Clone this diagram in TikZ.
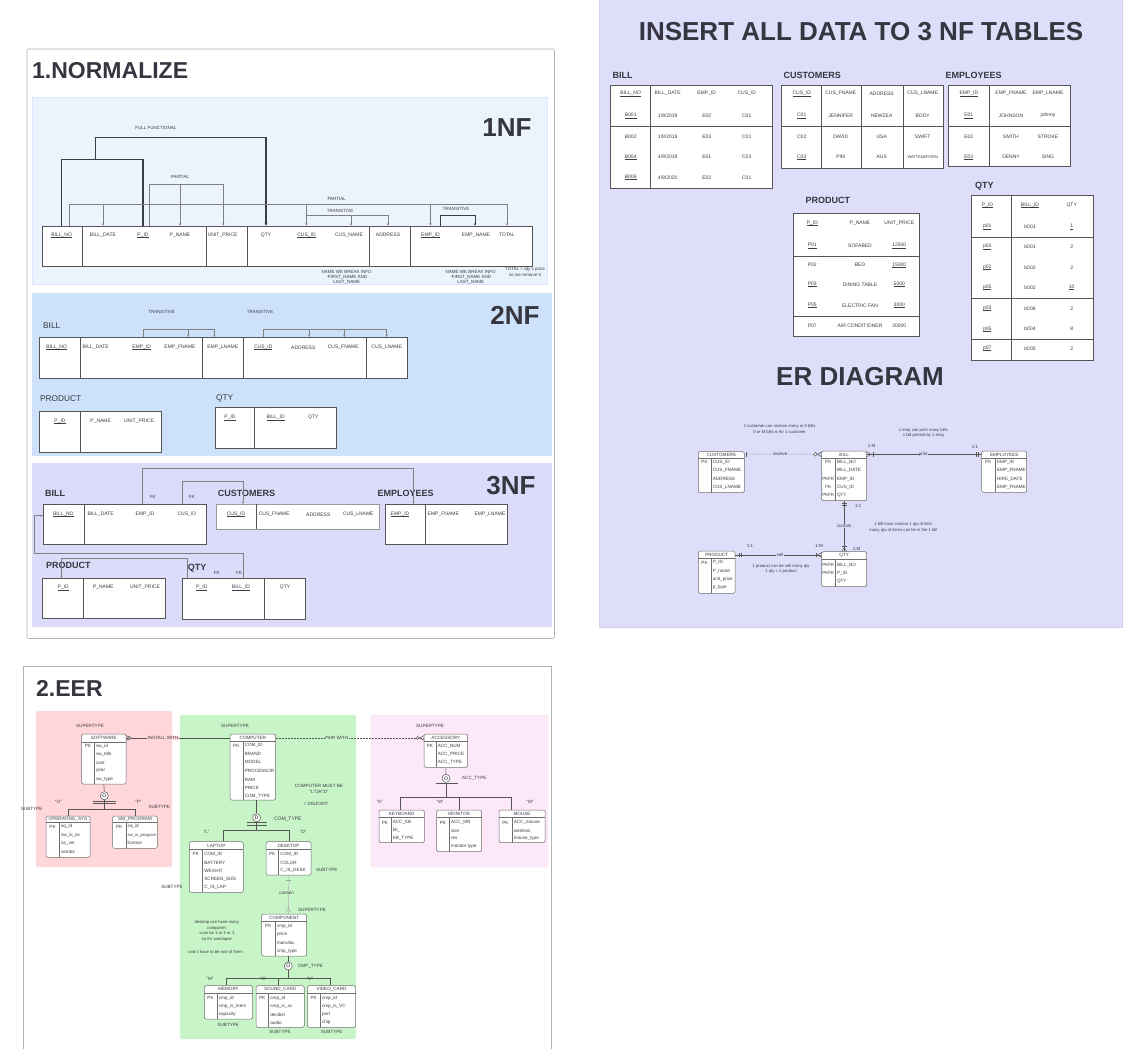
\documentclass[tikz,border=0pt]{standalone}
\usepackage{fontspec}
\setmainfont{Liberation Sans}
\usetikzlibrary{arrows.meta,fit,calc}
\definecolor{tline}{HTML}{555555}
\definecolor{txt}{HTML}{3C3C46}
\definecolor{ttl}{HTML}{363640}
\definecolor{nfa}{HTML}{EBF3FD}
\definecolor{nfb}{HTML}{CDE2FA}
\definecolor{nfc}{HTML}{DCDCFA}
\definecolor{rp}{HTML}{DEDEFA}
\definecolor{pk}{HTML}{FFD6D9}
\definecolor{gr}{HTML}{C8F5C8}
\definecolor{lp}{HTML}{FCE8F8}
\definecolor{frm}{HTML}{B4B4B4}
\definecolor{depc}{HTML}{808080}
\newcommand\fsz{\fontsize{5}{6}\selectfont}
\newcommand\flab{\fontsize{4.5}{5.4}\selectfont}
\newcommand\fen{\fontsize{4.6}{5.6}\selectfont}
\newcommand\fnt{\fontsize{4.2}{5.6}\selectfont}
\newcommand\fsec{\fontsize{9}{10}\selectfont}
\newcommand\fmid{\fontsize{8.3}{10}\selectfont}
\newcommand\fbig{\fontsize{26}{30}\selectfont}
\newcommand\fttl{\fontsize{23}{27}\selectfont}
\newcommand\myul[1]{{\setbox0\hbox{#1}\rlap{\rule[-0.9pt]{\wd0}{0.3pt}}\box0}}
\newcounter{tn}
\newcommand\putt[4][]{\stepcounter{tn}\node[hd,#1] (t\arabic{tn}) at (#2,#3) {#4};}
\newcommand\rfour[9]{\putt{#2}{#1}{#3}\putt{#4}{#1}{#5}\putt{#6}{#1}{#7}\putt{#8}{#1}{#9}}
\newcommand\rthree[7]{\putt{#2}{#1}{#3}\putt{#4}{#1}{#5}\putt{#6}{#1}{#7}}
\newcommand\ent[8]{%
  \node[en, fit={(#2,#3)(#4,#5)}] (#1) {};
  \draw[edv] (#2,#6) -- (#4,#6);
  \draw[edv] (#7,#6) -- (#7,#5);
  \node[et] (#1h) at ({(#2+#4)/2},{(#3+#6)/2}) {#8};}
\newcommand\R[5]{\putt[et]{#1}{#3}{#4}\putt[et,anchor=west]{#2}{#3}{#5}}
\begin{document}
\begin{tikzpicture}[x=1pt,y=-1pt,
  hd/.style={font=\fsz, text=txt, inner sep=0.3pt},
  tb/.style={draw=tline, fill=white, line width=0.7pt, inner sep=0pt},
  dv/.style={draw=tline, line width=0.7pt},
  dep/.style={draw=depc, line width=0.5pt},
  arr/.style={-{Stealth[length=2.4pt,width=2.2pt]}},
  ffl/.style={draw=txt, line width=1.2pt},
  lab/.style={font=\flab, text=txt, inner sep=0.4pt},
  nt/.style={font=\fnt, text=txt, inner sep=0.3pt, align=center},
  secl/.style={font=\fsec\bfseries, text=ttl, anchor=west, inner sep=0pt},
  midl/.style={font=\fmid, text=ttl, anchor=west, inner sep=0pt},
  big/.style={font=\fbig\bfseries, text=ttl, inner sep=0pt},
  en/.style={draw=tline!85, fill=white, line width=0.5pt, rounded corners=1.5pt, inner sep=0pt},
  edv/.style={draw=tline!85, line width=0.4pt},
  et/.style={font=\fen, text=txt, inner sep=0.3pt},
  erl/.style={draw=tline, line width=0.5pt},
  circ/.style={draw=tline, circle, fill=white, minimum size=8pt, inner sep=0pt, font=\fsz, line width=0.5pt}]
\useasboundingbox (0,0) rectangle (1130,1049);
% ---------------- frames ----------------
\draw[frm, fill=white, rounded corners=2pt, line width=0.6pt] (27,49) rectangle (554.5,638.5);
\node[font=\fttl\bfseries, text=ttl, anchor=west, inner sep=0pt] (ttlnorm) at (32,71) {1.NORMALIZE};
\draw[fill=nfa, draw=nfa!85!blue!60!white, line width=0.4pt] (32,97) rectangle (547,284);
\fill[nfb] (32,292.5) rectangle (552,456);
\fill[nfc] (32,463) rectangle (552,627);
\draw[fill=rp, draw=rp!85!gray, line width=0.5pt] (599,-2) rectangle (1122,627);
\draw[frm, fill=white, line width=0.6pt] (23,666) rectangle (551,1060);
\node[font=\fttl\bfseries, text=ttl, anchor=west, inner sep=0pt] (ttleer) at (36,688) {2.EER};
\fill[pk, rounded corners=2pt] (36,711) rectangle (172,867);
\fill[gr, rounded corners=2pt] (180,715) rectangle (356,1039);
\draw[fill=lp, draw=pk!70, rounded corners=2pt, line width=0.4pt] (371,715) rectangle (548,867);
% ---------------- 1NF ----------------
\node[big] (l1nf) at (507,128) {1NF};
\node[tb, fit={(42,226)(532,266)}] (nf1) {};
\foreach \xx in {82,206,247,369,410} \draw[dv] (\xx,226) -- (\xx,266);
\node[hd] (a1) at (61.7,235) {\myul{BILL\_NO}};
\node[hd] (a2) at (103,235) {BILL\_DATE};
\node[hd] (a3) at (143,235) {\myul{P\_ID}};
\node[hd] (a4) at (180,235) {P\_NAME};
\node[hd] (a5) at (222.7,235) {UNIT\_PRICE};
\node[hd] (a6) at (266,235) {QTY};
\node[hd] (a7) at (306.5,235) {\myul{CUS\_ID}};
\node[hd] (a8) at (349,235) {CUS\_NAME};
\node[hd] (a9) at (388,235) {ADDRESS};
\node[hd] (a10) at (430.5,235) {\myul{EMP\_ID}};
\node[hd] (a11) at (476,235) {EMP\_NAME};
\node[hd] (a12) at (507,235) {TOTAL};
\draw[ffl] (a1 |- nf1.north) -- ++(0,-66) -| (a3 |- nf1.north);
\draw[ffl,-{Stealth[length=3.2pt,width=3pt]}] ($(a1 |- nf1.north)+(34,-66)$) -- ++(0,-22.3) -| (a6 |- nf1.north);
\draw[dep,arr] ($(a3 |- nf1.north)+(6.3,0)$) -- ++(0,-41.7) -| ($(a5 |- nf1.north)+(0.6,0)$);
\draw[dep,arr] ($(a4 |- nf1.north)+(0,-41.7)$) -- (a4 |- nf1.north);
\draw[dep,arr] ($(a1 |- nf1.north)+(7.6,0)$) -- ++(0,-21.7) -| (a12 |- nf1.north);
\foreach \n in {a2,a7,a10} \draw[dep,arr] ($(\n |- nf1.north)+(0,-21.7)$) -- (\n |- nf1.north);
\draw[dep,arr] ($(a7 |- nf1.north)+(0,-10.3)$) -| (a9 |- nf1.north);
\draw[dep,arr] ($(a8 |- nf1.north)+(2,-10.3)$) -- ($(a8 |- nf1.north)+(2,0)$);
\draw[draw=txt, line width=0.8pt, arr] ($(a10 |- nf1.north)+(10,0)$) -- ++(0,-10.3) -| ($(a11 |- nf1.north)+(-1,0)$);
\putt[lab]{156}{128}{FULL FUNCTIONAL}
\putt[lab]{180}{177}{PARTIAL}
\putt[lab]{336.7}{199.3}{PARTIAL}
\putt[lab]{340}{211}{TRANSITIVE}
\putt[lab]{456}{209}{TRANSITIVE}
\putt[lab,align=center]{346.7}{277.3}{NAME WE BREAK INFO\\-FIRST\_NAME AND\\LAST\_NAME}
\putt[lab,align=center]{470.7}{277.3}{NAME WE BREAK INFO\\-FIRST\_NAME AND\\LAST\_NAME}
\putt[lab,align=center]{525}{272}{TOTAL = qty x price\\so we remove it}
% ---------------- 2NF ----------------
\node[big] (l2nf) at (515,315) {2NF};
\node[midl] (s2bill) at (43,326) {BILL};
\node[tb, fit={(39,337.3)(407.3,378.3)}] (b2) {};
\foreach \xx in {80,202.7,243.3,366.7} \draw[dv] (\xx,337.3) -- (\xx,378.3);
\node[hd] (c1) at (56.7,347.3) {\myul{BILL\_NO}};
\node[hd] (c2) at (95.7,347.3) {BILL\_DATE};
\node[hd] (c3) at (141.7,347.3) {\myul{EMP\_ID}};
\node[hd] (c4) at (180,347.3) {EMP\_FNAME};
\node[hd] (c5) at (222.7,347.3) {EMP\_LNAME};
\node[hd] (c6) at (263.3,347.3) {\myul{CUS\_ID}};
\node[hd] (c7) at (303.3,347.3) {ADDRESS};
\node[hd] (c8) at (343.3,347.3) {CUS\_FNAME};
\node[hd] (c9) at (386.7,347.3) {CUS\_LNAME};
\draw[dep,arr] ($(c3 |- b2.north)+(1.6,0)$) -- ++(0,-8) -| ($(c5 |- b2.north)+(-8.4,0)$);
\draw[dep,arr] ($(c4 |- b2.north)+(8.3,-8)$) -- ($(c4 |- b2.north)+(8.3,0)$);
\draw[dep,arr] (c6 |- b2.north) -- ++(0,-8) -| (c9 |- b2.north);
\draw[dep,arr] ($(c7 |- b2.north)+(6,-8)$) -- ($(c7 |- b2.north)+(6,0)$);
\draw[dep,arr] ($(c8 |- b2.north)+(1,-8)$) -- ($(c8 |- b2.north)+(1,0)$);
\putt[lab]{161.7}{312.3}{TRANSITIVE}
\putt[lab]{260}{312.3}{TRANSITIVE}
\node[midl] (s2prod) at (40,398.3) {PRODUCT};
\node[tb, fit={(39,411.7)(161,452.7)}] (p2) {};
\draw[dv] (80,411.7) -- (80,452.7);
\putt{60}{421}{\myul{P\_ID}}
\putt{100.7}{421}{P\_NAME}
\putt{139}{421}{UNIT\_PRICE}
\node[midl] (s2qty) at (216,398.3) {QTY};
\node[tb, fit={(215,407.3)(336,448.3)}] (q2) {};
\draw[dv] (254.3,407.3) -- (254.3,448.3);
\putt{230}{417.7}{\myul{P\_ID}}
\putt{275.7}{417.7}{\myul{BILL\_ID}}
\putt{313.3}{417.7}{QTY}
% ---------------- 3NF ----------------
\node[big] (l3nf) at (511,486) {3NF};
\node[secl] (s3bill) at (45,493.3) {BILL};
\node[tb, fit={(43.3,504.3)(206.7,544.3)}] (b3) {};
\draw[dv] (84,504.3) -- (84,544.3);
\node[hd] (d1) at (63.3,514.3) {\myul{BILL\_NO}};
\node[hd] (d2) at (100.7,514.3) {BILL\_DATE};
\node[hd] (d3) at (145,514.3) {EMP\_ID};
\node[hd] (d4) at (186.7,514.3) {CUS\_ID};
\node[secl] (s3cus) at (217.7,493.3) {CUSTOMERS};
\node[tb, draw=tline!60, fit={(216,504.3)(379,529)}] (c3b) {};
\draw[dv] (256.7,504.3) -- (256.7,529);
\putt{236}{514.3}{\myul{CUS\_ID}}
\putt{274.3}{514.3}{CUS\_FNAME}
\putt{318.3}{514.3}{ADDRESS}
\putt{358.3}{514.3}{CUS\_LNAME}
\node[secl] (s3emp) at (377.3,493.3) {EMPLOYEES};
\node[tb, fit={(385,504.3)(507.3,544.3)}] (e3) {};
\draw[dv] (425.7,504.3) -- (425.7,544.3);
\putt{400}{514.3}{\myul{EMP\_ID}}
\putt{443.3}{514.3}{EMP\_FNAME}
\putt{490}{514.3}{EMP\_LNAME}
\node[secl] (s3prod) at (46,565) {PRODUCT};
\node[tb, fit={(42.7,578.3)(165,618.3)}] (p3) {};
\draw[dv] (83.3,578.3) -- (83.3,618.3);
\putt{63.3}{587.7}{\myul{P\_ID}}
\putt{103.3}{587.7}{P\_NAME}
\putt{145}{587.7}{UNIT\_PRICE}
\node[secl] (s3qty) at (187.7,568.3) {QTY};
\node[tb, fit={(182.7,578.3)(305.7,619.3)}] (q3) {};
\draw[dv] (264.3,578.3) -- (264.3,619.3);
\putt{201.7}{587.7}{\myul{P\_ID}}
\putt{241}{587.7}{\myul{BILL\_ID}}
\putt{285}{587.7}{QTY}
\draw[dep,arr] ($(d3 |- b3.north)+(-2.3,0)$) -- ++(0,-36) -| ($(e3.north west)+(29,0)$);
\draw[dep,arr] ($(d4 |- b3.north)+(-4.4,0)$) -- ++(0,-22.6) -| ($(c3b.north west)+(27.3,0)$);
\draw[dep,arr] ($(q3.north west)+(60.6,0)$) -- ++(0,-25) -| ($(b3.west)+(-9,-8.6)$) -- ($(b3.west)+(0,-8.6)$);
\draw[dep,arr] ($(q3.north west)+(5,0)$) -- ++(0,-20) -| ($(p3.north west)+(19,0)$);
\putt[lab]{152.7}{496.7}{FK}
\putt[lab]{191.7}{496.7}{FK}
\putt[lab]{216.7}{572.7}{FK}
\putt[lab]{239}{572.7}{FK}
% ---------------- INSERT DATA ----------------
\node[big] (ttlins) at (861,31.7) {INSERT ALL DATA TO 3 NF TABLES};
\node[secl] (rbl) at (612.5,75) {BILL};
\node[tb, fit={(610.7,85)(772.7,188.3)}] (rb) {};
\draw[dv] (650.7,85) -- (650.7,188.3);
\draw[dv] (610.7,126.7) -- (772.7,126.7);
\rfour{93.7}{630.7}{\myul{BILL\_NO}}{667.7}{BILL\_DATE}{706.7}{EMP\_ID}{746.7}{CUS\_ID}
\rfour{115.7}{630.7}{\myul{B001}}{667.7}{1/9/2019}{706.7}{E02}{746.7}{C01}
\rfour{136.7}{630.7}{B002}{667.7}{1/9/2018}{706.7}{E03}{746.7}{C01}
\rfour{157}{630.7}{\myul{B004}}{667.7}{4/9/2019}{706.7}{E01}{746.7}{C03}
\rfour{177.3}{630.7}{\myul{B006}}{667.7}{4/9/2020}{706.7}{E02}{746.7}{C01}
\node[secl] (rcl) at (783.3,75) {CUSTOMERS};
\node[tb, fit={(781,85)(943.3,168.3)}] (rc) {};
\foreach \xx in {821.7,861.7,903.3} \draw[dv] (\xx,85) -- (\xx,168.3);
\draw[dv] (781,126.7) -- (943.3,126.7);
\rfour{93.7}{801.7}{\myul{CUS\_ID}}{840.7}{CUS\_FNAME}{881.7}{ADDRESS}{922.7}{CUS\_LNAME}
\rfour{115.7}{801.7}{\myul{C01}}{840.7}{JENNIFER}{881.7}{NEWZEA}{922.7}{BODY}
\rfour{136.7}{801.7}{C02}{840.7}{DAVID}{881.7}{USA}{922.7}{SWIFT}
\rfour{157}{801.7}{\myul{C03}}{840.7}{PIM}{881.7}{AUS}{922.7}{{\fontsize{4}{5}\selectfont WATTANAPORN}}
\node[secl] (rel) at (945.5,75) {EMPLOYEES};
\node[tb, fit={(948.3,85)(1070,166.7)}] (re) {};
\draw[dv] (989.3,85) -- (989.3,166.7);
\draw[dv] (948.3,126.7) -- (1070,126.7);
\rthree{93.7}{968.8}{\myul{EMP\_ID}}{1011}{EMP\_FNAME}{1048}{EMP\_LNAME}
\rthree{115.7}{968.8}{\myul{E01}}{1011}{JOHNSON}{1048}{johnny}
\rthree{136.7}{968.8}{E02}{1011}{SMITH}{1048}{STROKE}
\rthree{157}{968.8}{\myul{E03}}{1011}{DENNY}{1048}{SING}
\node[secl] (rpl) at (805.5,200) {PRODUCT};
\node[tb, fit={(793.3,213.3)(919.3,336.7)}] (rpd) {};
\draw[dv] (793.3,256) -- (919.3,256);
\draw[dv] (793.3,316.7) -- (919.3,316.7);
\rthree{223.3}{812.3}{\myul{P\_ID}}{860}{P\_NAME}{899.3}{UNIT\_PRICE}
\rthree{245.7}{812.3}{\myul{P01}}{860}{SOFABED}{899.3}{\myul{12500}}
\rthree{265}{812.3}{P02}{860}{BED}{899.3}{\myul{15000}}
\rthree{284.3}{812.3}{\myul{P03}}{860}{DINING TABLE}{899.3}{\myul{5000}}
\rthree{305.3}{812.3}{\myul{P05}}{860}{ELECTRIC FAN}{899.3}{\myul{3000}}
\rthree{325.7}{812.3}{P07}{860}{AIR CONDITIONER}{899.3}{20000}
\node[secl] (rql) at (975,186.7) {QTY};
\node[tb, fit={(971.7,195)(1093.3,360)}] (rq) {};
\draw[dv] (1011,195) -- (1011,360);
\foreach \yy in {237.3,298.3,339} \draw[dv] (971.7,\yy) -- (1093.3,\yy);
\rthree{205}{987.3}{\myul{P\_ID}}{1030}{\myul{BILL\_ID}}{1071.7}{QTY}
\rthree{226.7}{987.3}{\myul{p01}}{1030}{b001}{1071.7}{\myul{1}}
\rthree{246.7}{987.3}{\myul{p03}}{1030}{b001}{1071.7}{2}
\rthree{267.3}{987.3}{\myul{p02}}{1030}{b002}{1071.7}{2}
\rthree{287.3}{987.3}{\myul{p05}}{1030}{b002}{1071.7}{\myul{10}}
\rthree{308.3}{987.3}{\myul{p03}}{1030}{b006}{1071.7}{2}
\rthree{329}{987.3}{\myul{p05}}{1030}{b004}{1071.7}{8}
\rthree{348.3}{987.3}{\myul{p07}}{1030}{b005}{1071.7}{2}
% ---------------- ER DIAGRAM ----------------
\node[big] (ttler) at (860,377) {ER DIAGRAM};
\ent{ecus}{698.3}{451.7}{744.3}{492.7}{458}{710.7}{CUSTOMERS}
\R{704.5}{712.3}{462.3}{PK}{CUS\_ID}
\R{704.5}{712.3}{470.7}{}{CUS\_FNAME}
\R{704.5}{712.3}{479.3}{}{ADDRESS}
\R{704.5}{712.3}{487.7}{}{CUS\_LNAME}
\ent{ebill}{821.7}{451}{866.7}{500.7}{458}{835}{BILL}
\R{828.3}{836.6}{462.3}{PK}{BILL\_NO}
\R{828.3}{836.6}{470.7}{}{BILL\_DATE}
\R{828.3}{836.6}{479.3}{PKFK}{EMP\_ID}
\R{828.3}{836.6}{487.3}{FK}{CUS\_ID}
\R{828.3}{836.6}{495.3}{PKFK}{QTY}
\ent{eemp}{981.7}{451}{1026.7}{492.3}{458}{995}{EMPLOYEES}
\R{988.3}{996.6}{462.3}{PK}{EMP\_ID}
\R{988.3}{996.6}{470.7}{}{EMP\_FNAME}
\R{988.3}{996.6}{479.3}{}{HIRE\_DATE}
\R{988.3}{996.6}{487.7}{}{EMP\_FNAME}
\ent{eqty}{821.7}{551.7}{866.7}{586.7}{559.5}{835}{QTY}
\R{828.3}{836.6}{565}{PKFK}{BILL\_NO}
\R{828.3}{836.6}{573.3}{PKFK}{P\_ID}
\R{828.3}{836.6}{581.7}{}{QTY}
\ent{eprod}{698.3}{551}{735}{593.3}{558}{710.7}{PRODUCT}
\R{704.5}{712.3}{562.7}{PK}{P\_ID}
\R{704.5}{712.3}{571}{}{P\_name}
\R{704.5}{712.3}{579.3}{}{unit\_price}
\R{704.5}{712.3}{587.7}{}{p\_type}
% CUSTOMERS -- BILL
\draw[erl, densely dotted] ($(ecus.north east)+(0,2.6)$) -- ($(ebill.north west)+(0,3.3)$);
\draw[erl] (746.5,452) -- (746.5,456.6);
\draw[erl] (817.5,454.3) -- (821.7,451.8) (817.5,454.3) -- (821.7,456.8);
\draw[erl,fill=white] (815.4,454.3) circle (1.8);
\node[lab,fill=rp] (lrecv) at (780,454.3) {recieve};
% BILL -- EMPLOYEES
\draw[erl] ($(ebill.north east)+(0,3.3)$) -- ($(eemp.north west)+(0,3.3)$);
\draw[erl] (871,454.3) -- (866.7,451.8) (871,454.3) -- (866.7,456.8);
\draw[erl] (873,452) -- (873,456.6);
\draw[erl] (976.5,452) -- (976.5,456.6) (978.7,452) -- (978.7,456.6);
\node[lab,fill=rp] (lprint) at (923.3,454.3) {print};
\putt[lab]{871.7}{446}{1:M}
\putt[lab]{975}{447.3}{1:1}
% BILL -- QTY
\draw[erl] (ebill.south) -- (eqty.north);
\draw[erl] (841.8,503.3) -- (846.6,503.3) (841.8,505.6) -- (846.6,505.6);
\draw[erl] (844.2,547.5) -- (841.7,551.7) (844.2,547.5) -- (846.7,551.7);
\draw[erl] (841.8,545.8) -- (846.6,545.8);
\node[lab,fill=rp] (lcont) at (844.2,526) {contain};
\putt[lab]{858.3}{505.7}{1:1}
\putt[lab]{856.7}{549}{1:M}
% PRODUCT -- QTY
\draw[erl] ($(eprod.north east)+(0,4)$) -- ($(eqty.north west)+(0,3.3)$);
\draw[erl] (739,552.7) -- (739,557.3) (741.2,552.7) -- (741.2,557.3);
\draw[erl] (817.5,555) -- (821.7,552.5) (817.5,555) -- (821.7,557.5);
\draw[erl] (816,552.7) -- (816,557.3);
\node[lab,fill=rp] (lsell) at (780,555) {sell};
\putt[lab]{750}{545.7}{1:1}
\putt[lab]{819}{545.7}{1:M}
\putt[nt]{779.6}{429}{1 customer can recieve many or 0 bills\\0 or M bills is for 1 customer}
\putt[nt]{923.3}{433}{1 emp can print many bills\\1 bill printed by 1 emp}
\putt[nt]{903.3}{527.3}{1 bill must contain 1 qty of item\\many qty of items can be in the 1 bill}
\putt[nt]{781}{568.8}{1 product can be sell many qty\\1 qty = 1 product}
% ---------------- EER ----------------
\ent{sw}{81.7}{734}{126}{784}{741.7}{94}{SOFTWARE}
\R{88}{95.6}{746.3}{PK}{sw\_id}
\R{88}{95.6}{754.7}{}{sw\_title}
\R{88}{95.6}{762.7}{}{cost}
\R{88}{95.6}{771}{}{year}
\R{88}{95.6}{779}{}{sw\_type}
\ent{os}{46}{816}{90}{857.3}{822}{59}{OPERATING\_SYS}
\R{52.5}{60.6}{826.7}{PK}{sq\_id}
\R{52.5}{60.6}{835}{}{sw\_is\_os}
\R{52.5}{60.6}{843.3}{}{os\_ver}
\R{52.5}{60.6}{851.7}{}{vendor}
\ent{swp}{112.7}{816}{157.3}{848.3}{822}{125.7}{SW\_PROGRAM}
\R{119.2}{127.2}{826.7}{PK}{sq\_id}
\R{119.2}{127.2}{835}{}{{\fontsize{4.2}{5}\selectfont sw\_is\_program}}
\R{119.2}{127.2}{843.3}{}{licence}
\ent{cmp}{230}{734}{275.7}{800}{741.5}{242.7}{COMPUTER}
\R{236.3}{244.3}{745.5}{PK}{COM\_ID}
\R{236.3}{244.3}{753.8}{}{BRAND}
\R{236.3}{244.3}{762.3}{}{MODEL}
\R{236.3}{244.3}{771}{}{PROCESSOR}
\R{236.3}{244.3}{779.7}{}{RAM}
\R{236.3}{244.3}{788}{}{PRICE}
\R{236.3}{244.3}{796.2}{}{COM\_TYPE}
\ent{lap}{189.3}{841.7}{243.3}{892.3}{849.5}{202.3}{LAPTOP}
\R{195.8}{203.9}{854.3}{PK}{COM\_ID}
\R{195.8}{203.9}{862.5}{}{BATTERY}
\R{195.8}{203.9}{870.7}{}{WEIGHT}
\R{195.8}{203.9}{879}{}{SCREEN\_SIZE}
\R{195.8}{203.9}{887.3}{}{C\_IS\_LAP}
\ent{desk}{266}{841.7}{311}{875}{849.5}{278.3}{DESKTOP}
\R{272.2}{279.9}{854.3}{PK}{COM\_ID}
\R{272.2}{279.9}{862.5}{}{COLOR}
\R{272.2}{279.9}{870.5}{}{C\_IS\_DESK}
\ent{comp}{261.7}{914}{306.7}{956}{921.5}{275}{COMPONENT}
\R{268.3}{276.6}{926}{PK}{cmp\_id}
\R{268.3}{276.6}{934.3}{}{price}
\R{268.3}{276.6}{942.7}{}{manufac}
\R{268.3}{276.6}{951}{}{cmp\_type}
\ent{mem}{204.3}{985.7}{252.7}{1019}{993}{216.7}{MEMORY}
\R{210.5}{218.3}{998}{PK}{cmp\_id}
\R{210.5}{218.3}{1006.5}{}{cmp\_is\_mem}
\R{210.5}{218.3}{1014.7}{}{capacity}
\ent{snd}{256}{985.7}{304.3}{1027.3}{993}{268.3}{SOUND\_CARD}
\R{262.2}{269.9}{998}{PK}{cmp\_id}
\R{262.2}{269.9}{1006.5}{}{cmp\_is\_sc}
\R{262.2}{269.9}{1014.7}{}{decibel}
\R{262.2}{269.9}{1022.7}{}{audio}
\ent{vid}{307.3}{985.7}{355.7}{1027.3}{993}{320}{VIDEO\_CARD}
\R{313.7}{321.6}{998}{PK}{cmp\_id}
\R{313.7}{321.6}{1006.5}{}{cmp\_is\_VC}
\R{313.7}{321.6}{1014.7}{}{port}
\R{313.7}{321.6}{1022.7}{}{chip}
\ent{acc}{424}{734}{467.7}{767.3}{741}{435.7}{ACCESSORY}
\R{429.9}{437.3}{746}{PK}{ACC\_NUM}
\R{429.9}{437.3}{754.3}{}{ACC\_PRICE}
\R{429.9}{437.3}{762.3}{}{ACC\_TYPE}
\ent{kb}{379}{810}{424.3}{842.7}{817.5}{390.7}{KEYBOARD}
\R{384.9}{392.3}{822.7}{PK}{ACC\_KB}
\R{384.9}{392.3}{830.7}{}{kb\_}
\R{384.9}{392.3}{838.5}{}{KB\_TYPE}
\ent{mon}{436.7}{810}{481.7}{851.7}{817.5}{449}{MONITOR}
\R{442.9}{450.6}{822.7}{PK}{ACC\_MN}
\R{442.9}{450.6}{830.7}{}{size}
\R{442.9}{450.6}{838.5}{}{res}
\R{442.9}{450.6}{846.7}{}{monitor type}
\ent{ms}{499}{810}{545}{842.7}{817.5}{511.7}{MOUSE}
\R{505.4}{513.3}{822.7}{PK}{ACC\_mouse}
\R{505.4}{513.3}{830.7}{}{wireless}
\R{505.4}{513.3}{838.5}{}{mouse\_type}
% INSTALL WITH
\draw[erl] ($(sw.north east)+(0,4)$) -- ($(cmp.north west)+(0,4)$);
\draw[erl] (131.5,738) -- (126,735.6) (131.5,738) -- (126,740.4);
\draw[erl,fill=white] (129.3,738) circle (1.5);
\node[lab,fill=pk] (linst) at (163,738) {INSTALL WITH};
% PAIR WITH
\draw[erl, densely dotted] ($(cmp.north east)+(0,4)$) -- ($(acc.north west)+(0,4)$);
\draw[erl] (419.5,738) -- (424,735.6) (419.5,738) -- (424,740.4);
\draw[erl,fill=white] (417.8,738) circle (1.5);
\node[lab,fill=gr] (lpair) at (336.7,737.5) {PAIR WITH};
% software specialisation
\node[circ] (sc) at (104.3,795.7) {O};
\draw[erl] (sw.south) -- (sc.north);
\draw[erl] (92.7,801.5) -- (115.7,801.5) (92.7,803.7) -- (115.7,803.7);
\draw[erl] (sc.south) -- ++(0,9.3);
\draw[erl] (os.north) -- ++(0,-6.7) -| (swp.north);
% computer specialisation
\node[circ] (cc) at (256.7,817.7) {D};
\draw[erl] ($(cmp.south)+(3.85,0)$) -- (cc.north);
\draw[erl] (246.7,822.7) -- (267,822.7) (246.7,824.9) -- (267,824.9);
\draw[erl] (cc.south) -- ++(0,9);
\draw[erl] ($(lap.north)+(7,0)$) -- ++(0,-11) -| ($(desk.north)+(0.5,0)$);
% desktop -- component
\draw[draw=gray!60, line width=0.4pt] (desk.south) -- ($(comp.north)+(4.1,0)$);
\draw[draw=gray!70, line width=0.4pt] (285.5,880) -- (291,880);
\draw[draw=gray!70, line width=0.4pt] (286,912) -- (288.4,907.5) -- (290.8,912);
\node[lab,fill=gr] (lcontain) at (286.7,893.3) {contain};
% component specialisation
\node[circ] (pc) at (288.3,966) {O};
\draw[erl] ($(comp.south)+(4.1,0)$) -- (pc.north);
\draw[erl] (pc.south) -- ++(0,8.3);
\draw[erl] ($(mem.north)+(-1.8,0)$) -- ++(0,-7.4) -| ($(vid.north)+(-1.5,0)$);
\draw[erl] ($(snd.north)+(-1.85,-7.4)$) -- ($(snd.north)+(-1.85,0)$);
% accessory specialisation
\node[circ] (ac) at (446,778.3) {O};
\draw[erl] (acc.south) -- (ac.north);
\draw[erl] (435.7,783.2) -- (457.7,783.2);
\draw[erl] (ac.south) -- ++(0,14.8);
\draw[erl] ($(kb.north)+(-1,0)$) -- ++(0,-12.7) -| ($(ms.north)+(-10.3,0)$);
\draw[erl] (mon.north) -- ++(0,-12.7);
% EER labels
\putt[et]{90}{725.7}{SUPERTYPE}
\putt[et]{235}{726}{SUPERTYPE}
\putt[et]{430}{725.7}{SUPERTYPE}
\putt[et]{58.3}{801.7}{"O"}
\putt[et]{138.3}{801.7}{"P"}
\putt[et]{31.7}{809.3}{SUBTYPE}
\putt[et]{159.3}{806.7}{SUBTYPE}
\putt[et,align=center]{319}{788.7}{COMPUTER MUST BE\\"L"OR"D"}
\putt[et]{316}{804.3}{= DISJOINT}
\putt[et,anchor=west,font=\fsz]{273.5}{819}{COM\_TYPE}
\putt[et]{206.7}{832.3}{"L"}
\putt[et]{303.3}{832.3}{"D"}
\putt[et,anchor=west]{315.5}{870.3}{SUBTYPE}
\putt[et]{172}{887.3}{SUBTYPE}
\putt[et]{312}{910}{SUPERTYPE}
\putt[nt]{216.7}{931}{desktop can have many\\componet\\=can be 1 or 2 or 3\\so it's overlapse}
\putt[nt]{215.7}{951.7}{and it have to be one of them}
\putt[et]{310.5}{966}{CMP\_TYPE}
\putt[et]{210}{979.3}{"M"}
\putt[et]{263.3}{979.3}{"S"}
\putt[et]{310}{979.3}{"V"}
\putt[et]{228.3}{1024.5}{SUBTYPE}
\putt[et]{280}{1032}{SUBTYPE}
\putt[et]{331.7}{1032}{SUBTYPE}
\putt[et]{474.3}{778.3}{ACC\_TYPE}
\putt[et]{380}{802.3}{"K"}
\putt[et]{440}{802.3}{"M"}
\putt[et]{530}{802.3}{"M"}
\end{tikzpicture}
\end{document}
